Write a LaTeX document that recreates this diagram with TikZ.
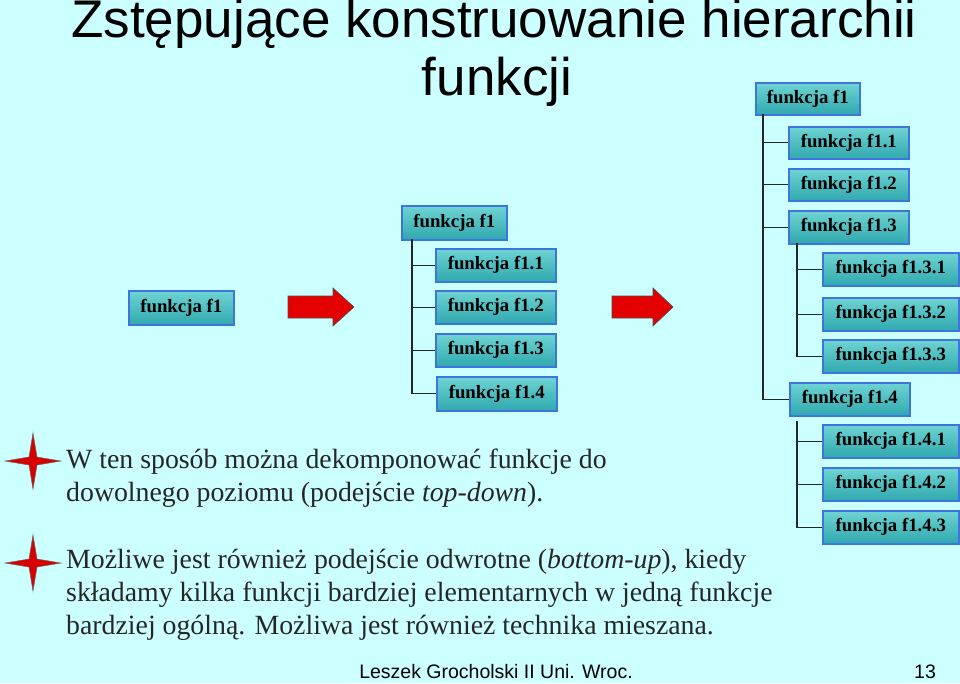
\documentclass[tikz,border=0pt]{standalone}
\usepackage{fontspec}
\setmainfont{Liberation Serif}
\newfontfamily\arialf{Liberation Sans}
\definecolor{boxA}{HTML}{6FD3D3}
\definecolor{boxB}{HTML}{2FA9AE}
\definecolor{boxE}{HTML}{3D74E0}
\definecolor{bg}{HTML}{CCFFFF}
\begin{document}
\begin{tikzpicture}[x=1pt,y=-1pt,
  fbox/.style={draw=boxE,line width=1.6pt,top color=boxA,bottom color=boxB,
   font=\fontsize{18.8}{20}\selectfont\bfseries,inner sep=0pt,anchor=north west},
  tl/.style={line width=1.1pt,black!85},
  rarrow/.style={fill=red!90!black,draw=black!70,line width=0.6pt},
  star/.style={fill=red!85!black,draw=black!60,line width=0.5pt},
  body/.style={font=\fontsize{27.8}{33}\selectfont,anchor=west,align=left,inner sep=0pt,text=black!85}]
\fill[bg] (0,0) rectangle (960,683);
\useasboundingbox (0,0) rectangle (960,683);
% title
\node[font=\arialf\fontsize{53}{55}\selectfont] (t1) at (494,24) {Zstępujące konstruowanie hierarchii};
\node[font=\arialf\fontsize{53}{55}\selectfont] (t2) at (497,82) {funkcji};
% left
\node[fbox,minimum width=105,minimum height=34] (a) at (128,290) {funkcja f1};
\draw[rarrow] (288,296)--(333,296)--(333,288)--(354,307)--(333,326)--(333,318)--(288,318)--cycle;
% middle
\node[fbox,minimum width=105,minimum height=34] (m) at (401,205) {funkcja f1};
\node[fbox,minimum width=120,minimum height=33] (m1) at (435,248) {funkcja f1.1};
\node[fbox,minimum width=120,minimum height=33] (m2) at (435,290) {funkcja f1.2};
\node[fbox,minimum width=120,minimum height=33] (m3) at (435,333) {funkcja f1.3};
\node[fbox,minimum width=120,minimum height=34] (m4) at (436,376) {funkcja f1.4};
\coordinate (mv) at (412,239);
\draw[tl] (mv) |- (m4.west);
\draw[tl] (mv|-m1.west) -- (m1.west);
\draw[tl] (mv|-m2.west) -- (m2.west);
\draw[tl] (mv|-m3.west) -- (m3.west);
\draw[rarrow] (612,296)--(653,296)--(653,288)--(673,307)--(653,326)--(653,318)--(612,318)--cycle;
% right
\node[fbox,minimum width=104,minimum height=32] (r) at (755,82) {funkcja f1};
\node[fbox,minimum width=120,minimum height=32] (r1) at (788,126) {funkcja f1.1};
\node[fbox,minimum width=120,minimum height=32] (r2) at (788,168) {funkcja f1.2};
\node[fbox,minimum width=120,minimum height=33] (r3) at (788,210) {funkcja f1.3};
\node[fbox,minimum width=136,minimum height=33] (r31) at (822,252) {funkcja f1.3.1};
\node[fbox,minimum width=136,minimum height=33] (r32) at (822,297) {funkcja f1.3.2};
\node[fbox,minimum width=136,minimum height=33] (r33) at (822,339) {funkcja f1.3.3};
\node[fbox,minimum width=120,minimum height=33] (r4) at (789,382) {funkcja f1.4};
\node[fbox,minimum width=136,minimum height=33] (r41) at (822,424) {funkcja f1.4.1};
\node[fbox,minimum width=136,minimum height=33] (r42) at (822,467) {funkcja f1.4.2};
\node[fbox,minimum width=136,minimum height=33] (r43) at (822,510) {funkcja f1.4.3};
\coordinate (rv) at (763,114);
\draw[tl] (rv) |- (r4.west);
\foreach \n in {r1,r2,r3} \draw[tl] (rv|-\n.west) -- (\n.west);
\coordinate (rv3) at (797,243);
\draw[tl] (rv3) |- (r33.west);
\foreach \n in {r31,r32} \draw[tl] (rv3|-\n.west) -- (\n.west);
\coordinate (rv4) at (797,421);
\draw[tl] (rv4) |- (r43.west);
\foreach \n in {r41,r42} \draw[tl] (rv4|-\n.west) -- (\n.west);
% bullets
\foreach \y [count=\i] in {461,563}{
 \draw[star] (5,\y) -- (29,\y-4) -- (33,\y-28) -- (37,\y-4) -- (61,\y) -- (37,\y+4) -- (33,\y+28) -- (29,\y+4) -- cycle;}
\node[body] (p1) at (66,478) {W ten sposób można dekomponować funkcje do\\dowolnego poziomu (podejście \textit{top-down}).};
\node[body] (p2) at (66,595) {Możliwe jest również podejście odwrotne (\textit{bottom-up}), kiedy\\składamy kilka funkcji bardziej elementarnych w jedną funkcje\\bardziej ogólną. Możliwa jest również technika mieszana.};
\node[font=\arialf\fontsize{19.5}{21}\selectfont] (f) at (496,672) {Leszek Grocholski II Uni. Wroc.};
\node[font=\arialf\fontsize{19.5}{21}\selectfont] (pg) at (925,672) {13};
\end{tikzpicture}
\end{document}
